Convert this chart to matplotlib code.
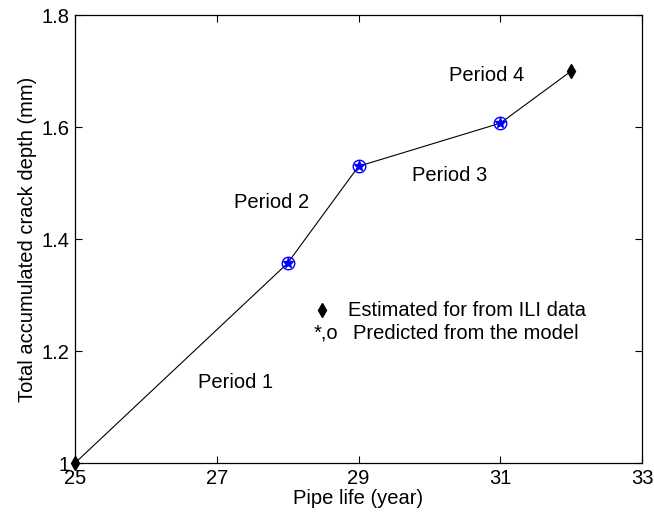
import numpy as np
import matplotlib.pyplot as plt

plt.rcParams['font.family'] = ['Liberation Sans', 'DejaVu Sans']

# crack depth along pipe life
years = [25, 28, 29, 31, 32]
depth = [1.0, 1.357, 1.53, 1.607, 1.70]

# ILI estimates (diamonds) and model predictions (*,o)
ili_years = [25, 32]
ili_depth = [1.0, 1.70]
model_years = [28, 29, 31]
model_depth = [1.357, 1.53, 1.607]

xticks = [25, 27, 29, 31, 33]
yticks = [1.0, 1.2, 1.4, 1.6, 1.8]
ytick_labels = ["1", "1.2", "1.4", "1.6", "1.8"]

periods = ["Period 1", "Period 2", "Period 3", "Period 4"]
period_x = [26.73, 27.25, 29.76, 30.28]
period_y = [1.143, 1.466, 1.514, 1.693]

fs = 14.5

fig = plt.figure(figsize=(6.54, 5.22), dpi=100)
ax = fig.add_axes([0.1147, 0.113, 0.867, 0.858])

ax.plot(years, depth, color='black', lw=0.8)
ax.plot(model_years, model_depth, 'o', mfc='none', mec='blue', ms=9, mew=1.0)
ax.plot(model_years, model_depth, '*', color='blue', ms=8)
ax.plot(ili_years, ili_depth, 'd', color='black', ms=7.5, clip_on=False, zorder=5)

for txt, px, py in zip(periods, period_x, period_y):
    ax.text(px, py, txt, fontsize=fs, va='center', ha='left')

# annotation block acting as legend
ax.plot([28.49], [1.273], 'd', color='black', ms=7)
ax.text(28.85, 1.273, "Estimated for from ILI data", fontsize=fs, va='center')
ax.text(28.37, 1.232, "*,o", fontsize=fs, va='center')
ax.text(28.92, 1.232, "Predicted from the model", fontsize=fs, va='center')

ax.set_xlim(25, 33)
ax.set_ylim(1.0, 1.8)
ax.set_xticks(xticks)
ax.set_yticks(yticks)
ax.set_yticklabels(ytick_labels)
ax.tick_params(direction='in', top=True, right=True, labelsize=fs, length=5, width=0.8, pad=4)
for s in ax.spines.values():
    s.set_linewidth(0.9)

ax.set_xlabel("Pipe life (year)", fontsize=fs, labelpad=1)
ax.set_ylabel("Total accumulated crack depth (mm)", fontsize=fs, labelpad=3)

fig.savefig("out.png", dpi=100)
